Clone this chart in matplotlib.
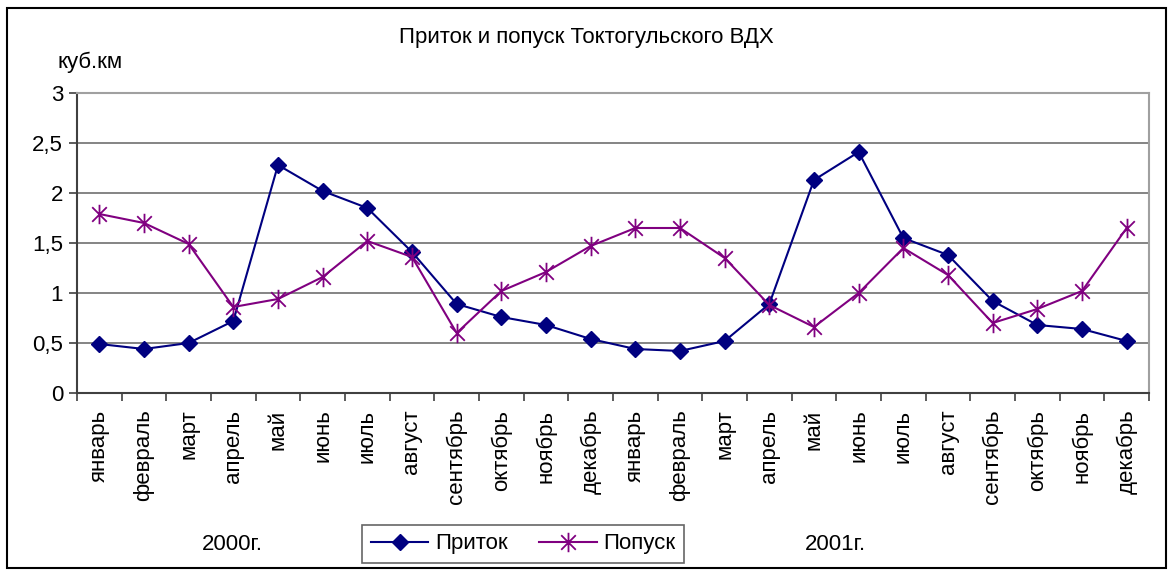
import numpy as np
import matplotlib
matplotlib.use("Agg")
import matplotlib.pyplot as plt
from matplotlib.path import Path
from matplotlib.patches import Rectangle

plt.rcParams['font.family'] = ['Liberation Sans', 'DejaVu Sans']

# месяцы за два года
mesyacy = ["январь", "февраль", "март", "апрель", "май", "июнь", "июль",
           "август", "сентябрь", "октябрь", "ноябрь", "декабрь"] * 2
# приток, куб.км
pritok = [0.49, 0.44, 0.50, 0.72, 2.28, 2.02, 1.85, 1.41, 0.89, 0.76, 0.68, 0.54,
          0.44, 0.42, 0.52, 0.89, 2.13, 2.41, 1.55, 1.38, 0.92, 0.68, 0.64, 0.52]
# попуск, куб.км
popusk = [1.79, 1.70, 1.49, 0.86, 0.94, 1.16, 1.52, 1.36, 0.60, 1.02, 1.21, 1.47,
          1.65, 1.65, 1.35, 0.88, 0.66, 1.00, 1.45, 1.18, 0.70, 0.84, 1.02, 1.65]
gody = ["2000г.", "2001г."]

# маркер-звёздочка как в Excel
zvezda = Path([(0, -1), (0, 1), (-0.75, -0.75), (0.75, 0.75), (-0.75, 0.75), (0.75, -0.75)],
              [Path.MOVETO, Path.LINETO, Path.MOVETO, Path.LINETO, Path.MOVETO, Path.LINETO])

fig = plt.figure(figsize=(11.68, 5.74), dpi=100)
W, H = 1168, 574
ax = fig.add_axes([77 / W, 1 - 393 / H, (1149 - 77) / W, (393 - 93) / H])

x = np.arange(len(mesyacy))
ax.plot(x, pritok, color="#000080", marker="D", markersize=8, linewidth=1.5, label="Приток")
ax.plot(x, popusk, color="#800080", marker=zvezda, markersize=14, markeredgewidth=1.3,
        linewidth=1.5, label="Попуск")

ax.set_xlim(-0.5, len(mesyacy) - 0.5)
ax.set_ylim(0, 3)
ax.set_yticks(np.arange(0, 3.01, 0.5))
ax.set_yticklabels(["0", "0,5", "1", "1,5", "2", "2,5", "3"], fontsize=16)
ax.yaxis.grid(True, color="#707070", linewidth=1.2)
ax.set_axisbelow(True)

ax.set_xticks(x)
ax.set_xticklabels(mesyacy, rotation=90, fontsize=16)
ax.tick_params(axis="x", length=0, pad=12)
ax.set_xticks(np.arange(-0.5, len(mesyacy)), minor=True)
ax.tick_params(axis="x", which="minor", length=6, width=1.2, color="#404040")
ax.tick_params(axis="y", length=6, width=1.2, color="#404040", pad=4)

for s in ["top", "right"]:
    ax.spines[s].set_color("#a0a0a0")
    ax.spines[s].set_linewidth(1.5)
for s in ["left", "bottom"]:
    ax.spines[s].set_color("#404040")
    ax.spines[s].set_linewidth(1.5)

fig.text(586 / W, 1 - 37 / H, "Приток и попуск Токтогульского ВДХ", ha="center", va="center", fontsize=16)
fig.text(90 / W, 1 - 62 / H, "куб.км", ha="center", va="center", fontsize=16)
fig.text(232 / W, 1 - 544 / H, gody[0], ha="center", va="center", fontsize=16)
fig.text(835 / W, 1 - 544 / H, gody[1], ha="center", va="center", fontsize=16)

leg = fig.legend(loc="center", bbox_to_anchor=(523 / W, 1 - 544 / H), ncol=2, fontsize=16,
                 frameon=True, fancybox=False, edgecolor="#404040", handlelength=2.6,
                 columnspacing=1.4, handletextpad=0.3, borderpad=0.4)
leg.get_frame().set_linewidth(1.2)

fig.patches.append(Rectangle((7 / W, 6 / H), (1166 - 7) / W, (566 - 6) / H, transform=fig.transFigure,
                             fill=False, edgecolor="black", linewidth=1.5))

plt.savefig("out.png", dpi=100)
